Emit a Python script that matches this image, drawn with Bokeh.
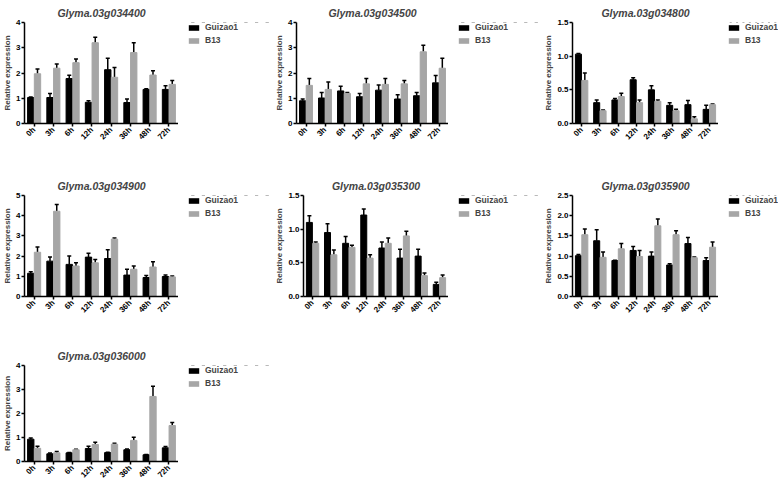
from bokeh.plotting import figure
from bokeh.layouts import column, row
from bokeh.models import (ColumnDataSource, FactorRange, Range1d, FixedTicker,
                          PrintfTickFormatter, Whisker, TeeHead, Legend)
from bokeh.transform import dodge
from bokeh.embed import file_html
from bokeh.resources import INLINE
import math

times = ["0h", "3h", "6h", "12h", "24h", "36h", "48h", "72h"]
series_names = ["Guizao1", "B13"]

# Glyma.03g034400
g1_gz = [1.03, 1.03, 1.78, 0.84, 2.13, 0.83, 1.35, 1.35]
g1_gz_err = [0.02, 0.16, 0.13, 0.06, 0.45, 0.14, 0.03, 0.15]
g1_b13 = [1.97, 2.19, 2.41, 3.20, 1.83, 2.81, 1.92, 1.55]
g1_b13_err = [0.19, 0.17, 0.14, 0.22, 0.39, 0.39, 0.17, 0.15]

# Glyma.03g034500
g2_gz = [0.90, 1.01, 1.29, 1.06, 1.32, 0.97, 1.10, 1.61]
g2_gz_err = [0.07, 0.22, 0.19, 0.13, 0.20, 0.17, 0.13, 0.29]
g2_b13 = [1.51, 1.35, 1.19, 1.57, 1.55, 1.57, 2.84, 2.19]
g2_b13_err = [0.27, 0.29, 0.04, 0.21, 0.23, 0.13, 0.26, 0.39]

# Glyma.03g034800
g3_gz = [1.03, 0.31, 0.35, 0.65, 0.50, 0.27, 0.28, 0.21]
g3_gz_err = [0.01, 0.04, 0.02, 0.03, 0.06, 0.04, 0.06, 0.06]
g3_b13 = [0.64, 0.19, 0.40, 0.31, 0.33, 0.19, 0.07, 0.28]
g3_b13_err = [0.11, 0.01, 0.05, 0.04, 0.02, 0.02, 0.03, 0.01]

# Glyma.03g034900
g4_gz = [1.15, 1.75, 1.59, 1.95, 1.88, 1.06, 0.94, 0.99]
g4_gz_err = [0.08, 0.21, 0.41, 0.19, 0.44, 0.29, 0.10, 0.07]
g4_b13 = [2.19, 4.22, 1.51, 1.67, 2.84, 1.35, 1.46, 0.97]
g4_b13_err = [0.26, 0.33, 0.16, 0.16, 0.05, 0.16, 0.26, 0.05]

# Glyma.03g035300
g5_gz = [1.10, 0.95, 0.79, 1.21, 0.72, 0.57, 0.60, 0.18]
g5_gz_err = [0.10, 0.13, 0.10, 0.09, 0.09, 0.13, 0.10, 0.03]
g5_b13 = [0.79, 0.62, 0.73, 0.57, 0.79, 0.90, 0.31, 0.28]
g5_b13_err = [0.02, 0.07, 0.03, 0.05, 0.08, 0.07, 0.04, 0.04]

# Glyma.03g035900
g6_gz = [1.01, 1.38, 0.89, 1.14, 1.00, 0.78, 1.31, 0.89]
g6_gz_err = [0.03, 0.27, 0.01, 0.10, 0.10, 0.03, 0.15, 0.07]
g6_b13 = [1.53, 0.97, 1.18, 0.99, 1.75, 1.53, 0.96, 1.22]
g6_b13_err = [0.14, 0.13, 0.13, 0.15, 0.17, 0.10, 0.02, 0.13]

# Glyma.03g036000
g7_gz = [0.93, 0.32, 0.36, 0.54, 0.37, 0.49, 0.28, 0.57]
g7_gz_err = [0.05, 0.03, 0.02, 0.10, 0.02, 0.03, 0.01, 0.06]
g7_b13 = [0.55, 0.36, 0.49, 0.71, 0.72, 0.88, 2.71, 1.50]
g7_b13_err = [0.09, 0.06, 0.02, 0.09, 0.04, 0.13, 0.43, 0.13]

titles = ["Glyma.03g034400", "Glyma.03g034500", "Glyma.03g034800",
          "Glyma.03g034900", "Glyma.03g035300", "Glyma.03g035900",
          "Glyma.03g036000"]
y_ticks = [[0, 1, 2, 3, 4], [0, 1, 2, 3, 4], [0, 0.5, 1.0, 1.5],
           [0, 1, 2, 3, 4, 5], [0, 0.5, 1.0, 1.5],
           [0, 0.5, 1.0, 1.5, 2.0, 2.5], [0, 1, 2, 3, 4]]
decimals = [False, False, True, False, True, True, False]
data = [(g1_gz, g1_gz_err, g1_b13, g1_b13_err),
        (g2_gz, g2_gz_err, g2_b13, g2_b13_err),
        (g3_gz, g3_gz_err, g3_b13, g3_b13_err),
        (g4_gz, g4_gz_err, g4_b13, g4_b13_err),
        (g5_gz, g5_gz_err, g5_b13, g5_b13_err),
        (g6_gz, g6_gz_err, g6_b13, g6_b13_err),
        (g7_gz, g7_gz_err, g7_b13, g7_b13_err)]

FONT = "Liberation Sans"
BLACK = "#000000"
GREY = "#a6a6a6"

# layout geometry (px)
main_w = [178, 176, 177]      # left border 22 + frame width
leg_w = [94, 93, 60]
row_h = [173, 170, 142]
row_bottom = [50, 47, 19]


def make_panel(i):
    c = i % 3
    r = i // 3
    gz, gze, b13, b13e = data[i]
    src = ColumnDataSource(dict(t=times, gz=gz, gz_up=[a + b for a, b in zip(gz, gze)],
                                b13=b13, b13_up=[a + b for a, b in zip(b13, b13e)]))
    p = figure(x_range=FactorRange(*times, range_padding=0),
               y_range=Range1d(0, y_ticks[i][-1]),
               width=main_w[c], height=row_h[r], output_backend="svg",
               toolbar_location=None, tools="",
               min_border_left=22, min_border_right=0,
               min_border_top=20, min_border_bottom=row_bottom[r])
    p.outline_line_color = None
    p.grid.visible = False

    p.title.text = titles[i]
    p.title.align = "center"
    p.title.text_font = FONT
    p.title.text_font_style = "bold italic"
    p.title.text_font_size = "10.5px"
    p.title.standoff = 8

    p.vbar(x=dodge("t", -0.175, range=p.x_range), top="gz", width=0.33,
           source=src, fill_color=BLACK, line_color=BLACK)
    p.vbar(x=dodge("t", 0.175, range=p.x_range), top="b13", width=0.33,
           source=src, fill_color=GREY, line_color=GREY)
    for off, lo, up in [(-0.175, "gz", "gz_up"), (0.175, "b13", "b13_up")]:
        w = Whisker(base=dodge("t", off, range=p.x_range), lower=lo, upper=up,
                    source=src, line_color=BLACK, line_width=1.5,
                    upper_head=TeeHead(size=4, line_color=BLACK, line_width=1.5),
                    lower_head=None)
        p.add_layout(w)

    yax = p.yaxis[0]
    yax.ticker = FixedTicker(ticks=y_ticks[i])
    if decimals[i]:
        yax.formatter = PrintfTickFormatter(format="%.1f")
    yax.axis_label = "Relative expression"
    yax.axis_label_text_font = FONT
    yax.axis_label_text_font_style = "bold"
    yax.axis_label_text_font_size = "8px"
    yax.axis_label_standoff = 1
    for ax in (p.xaxis[0], yax):
        ax.axis_line_width = 1.5
        ax.axis_line_color = BLACK
        ax.major_tick_line_width = 1.5
        ax.major_tick_line_color = BLACK
        ax.major_tick_in = 0
        ax.major_tick_out = 3
        ax.minor_tick_line_color = None
        ax.major_label_text_font = FONT
        ax.major_label_text_font_style = "bold"
        ax.major_label_text_font_size = "8px"
        ax.major_label_text_color = BLACK
        ax.major_label_standoff = 1
    p.xaxis[0].major_label_standoff = 2
    p.xaxis[0].major_label_orientation = math.pi / 4

    # legend panel to the right of the chart (its bars lie outside its own y range)
    lp = figure(width=leg_w[c], height=row_h[r],
                x_range=FactorRange(*times), y_range=Range1d(-2, -1),
                output_backend="svg", toolbar_location=None, tools="",
                x_axis_location=None, y_axis_location=None,
                min_border_left=9, min_border_top=22, min_border_right=0, min_border_bottom=0)
    lp.outline_line_color = None
    lp.grid.visible = False
    ra = lp.vbar(x="t", top="gz", width=0.3, source=src, fill_color=BLACK, line_color=None)
    rb = lp.vbar(x="t", top="b13", width=0.3, source=src, fill_color=GREY, line_color=None)
    legend = Legend(items=[(series_names[0], [ra]), (series_names[1], [rb])],
                    location="top_left",
                    border_line_color=None, background_fill_alpha=0,
                    margin=0, padding=0, glyph_width=13, glyph_height=7,
                    label_height=9, spacing=3, label_standoff=5,
                    label_text_font=FONT, label_text_font_style="bold",
                    label_text_font_size="8.5px")
    lp.add_layout(legend)
    return [p, lp]


panels = [make_panel(i) for i in range(7)]
layout = column(row(*(panels[0] + panels[1] + panels[2])),
                row(*(panels[3] + panels[4] + panels[5])),
                row(*panels[6]))

open("out.html", "w").write(file_html(layout, INLINE))
